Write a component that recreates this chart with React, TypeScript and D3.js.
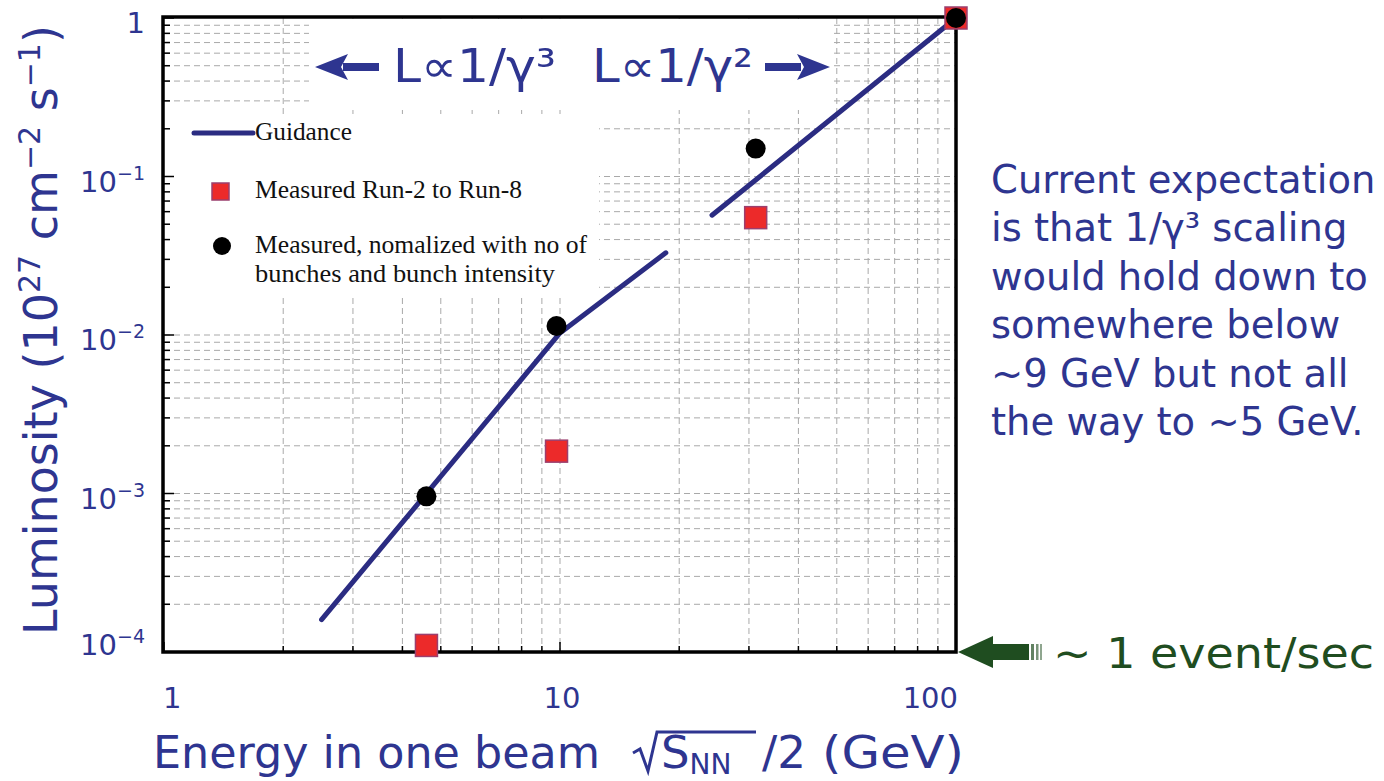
import React from "react";
import * as d3 from "d3";

// Beam energy per beam (GeV) and luminosity (10^27 cm^-2 s^-1)
const energies = [4.6, 9.8, 31.2, 100];
const measuredRuns = [1.1e-4, 1.85e-3, 0.055, 1];
const normalized = [9.6e-4, 0.0114, 0.15, 1];

// Guidance curves: 1/γ³ below ~10 GeV bending to 1/γ², and 1/γ² at high energy
const guidanceLowE = [2.5, 10, 18.5];
const guidanceLowL = [1.6e-4, 0.0103, 0.033];
const guidanceHighE = [24.2, 100];
const guidanceHighL = [0.057, 1];

const xTickValues = [1, 10, 100];
const xTickLabels = ["1", "10", "100"];
const yTickValues = [1, 0.1, 0.01, 0.001, 0.0001];
const yTickExponents = ["", "−1", "−2", "−3", "−4"];

const noteLines = [
  "Current expectation",
  "is that 1/γ³ scaling",
  "would hold down to",
  "somewhere below",
  "~9 GeV but not all",
  "the way to ~5 GeV.",
];

const BLUE = "#2e3590";
const LINE_BLUE = "#2b2c82";
const GREEN = "#1f4d20";
const SANS = "'DejaVu Sans', Verdana, sans-serif";
const SERIF = "'Liberation Serif', 'Times New Roman', serif";

export default function App() {
  const W = 1384;
  const H = 781;
  const left = 164;
  const right = 956;
  const top = 18;
  const bottom = 652;

  const x = d3.scaleLog().domain([1, 100]).range([left, right]);
  const y = d3.scaleLog().domain([1e-4, 1]).range([bottom, top]);

  const line = d3
    .line<[number, number]>()
    .x((d) => x(d[0]))
    .y((d) => y(d[1]));

  const lowPts = guidanceLowE.map((e, i) => [e, guidanceLowL[i]] as [number, number]);
  const highPts = guidanceHighE.map((e, i) => [e, guidanceHighL[i]] as [number, number]);

  const xGrid = x.ticks().filter((v) => v > 1 && v < 100);
  const yGrid = y.ticks().filter((v) => v > 1e-4 && v < 1);
  const isMajor = (v: number) => Math.abs(Math.log10(v) - Math.round(Math.log10(v))) < 1e-6;

  const sq = 22;
  const r = 10;

  const legendText = {
    fontFamily: SERIF,
    fontSize: 25.5,
    fill: "#111",
    lengthAdjust: "spacingAndGlyphs",
  } as const;

  return (
    <svg
      width={W}
      height={H}
      viewBox={`0 0 ${W} ${H}`}
      style={{ position: "absolute", left: 0, top: 0, background: "#fff" }}
    >
      <rect x={0} y={0} width={W} height={H} fill="#fff" />

      {/* dashed grid */}
      <g stroke="#a9a9a9" strokeWidth={1} strokeDasharray="6,4">
        {xGrid.map((v) => (
          <line key={"gx" + v} x1={x(v)} x2={x(v)} y1={top} y2={bottom} />
        ))}
        {yGrid.map((v) => (
          <line key={"gy" + v} x1={left} x2={right} y1={y(v)} y2={y(v)} />
        ))}
      </g>

      {/* white panels behind the annotations */}
      <rect x={309} y={top + 1} width={523} height={91} fill="#fff" />
      <rect x={left + 1} y={115} width={434} height={182} fill="#fff" />

      {/* frame and inner ticks */}
      <g stroke="#000">
        {y.ticks().map((v) => (
          <line
            key={"ty" + v}
            x1={left}
            x2={left + (isMajor(v) ? 10 : 6)}
            y1={y(v)}
            y2={y(v)}
            strokeWidth={1.5}
          />
        ))}
        {x.ticks().map((v) => (
          <line
            key={"tx" + v}
            x1={x(v)}
            x2={x(v)}
            y1={bottom}
            y2={bottom - (isMajor(v) ? 10 : 6)}
            strokeWidth={1.5}
          />
        ))}
        <rect
          x={left - 1}
          y={top - 1}
          width={right - left + 1}
          height={bottom - top + 1}
          fill="none"
          strokeWidth={3.5}
        />
      </g>

      {/* guidance */}
      <path d={line(lowPts) || ""} fill="none" stroke={LINE_BLUE} strokeWidth={5} strokeLinecap="round" strokeLinejoin="round" />
      <path d={line(highPts) || ""} fill="none" stroke={LINE_BLUE} strokeWidth={5} strokeLinecap="round" />

      {/* measured points */}
      {energies.map((e, i) => (
        <rect
          key={"m" + i}
          x={x(e) - sq / 2}
          y={y(measuredRuns[i]) - sq / 2}
          width={sq}
          height={sq}
          fill="#ec2a2a"
          stroke="#9b3f6e"
          strokeWidth={1.5}
        />
      ))}
      {energies.map((e, i) => (
        <circle key={"n" + i} cx={x(e)} cy={y(normalized[i])} r={r} fill="#000" />
      ))}

      {/* y tick labels */}
      {yTickValues.map((v, i) => (
        <text
          key={"yl" + i}
          x={145}
          y={Math.min(y(v) + 15, 655)}
          textAnchor="end"
          fill={BLUE}
          fontFamily={SANS}
          fontSize={29}
        >
          {i === 0 ? (
            "1"
          ) : (
            <>
              10
              <tspan fontSize={19} dy={-12}>
                {yTickExponents[i]}
              </tspan>
            </>
          )}
        </text>
      ))}

      {/* x tick labels */}
      {xTickValues.map((v, i) => (
        <text
          key={"xl" + i}
          x={i === 0 ? x(v) - 1 : x(v) + 2}
          y={708}
          textAnchor={i === 0 ? "start" : i === xTickValues.length - 1 ? "end" : "middle"}
          fill={BLUE}
          fontFamily={SANS}
          fontSize={29}
        >
          {xTickLabels[i]}
        </text>
      ))}

      {/* x axis title */}
      <text x={153} y={768} fill={BLUE} fontFamily={SANS} fontSize={45} textLength={447} lengthAdjust="spacingAndGlyphs">
        Energy in one beam
      </text>
      <path
        d="M633,753 L640,749 L648,771 L657,732 L756,732"
        fill="none"
        stroke={BLUE}
        strokeWidth={3}
        strokeLinejoin="miter"
      />
      <text x={661} y={768} fill={BLUE} fontFamily={SANS} fontSize={45}>
        S
        <tspan fontSize={28} dy={6}>
          NN
        </tspan>
      </text>
      <text x={762} y={768} fill={BLUE} fontFamily={SANS} fontSize={45} textLength={44} lengthAdjust="spacingAndGlyphs">
        /2
      </text>
      <text x={822} y={768} fill={BLUE} fontFamily={SANS} fontSize={45} textLength={142} lengthAdjust="spacingAndGlyphs">
        (GeV)
      </text>

      {/* y axis title */}
      <text
        transform="translate(57,635) rotate(-90)"
        fill={BLUE}
        fontFamily={SANS}
        fontSize={46}
      >
        Luminosity (10
        <tspan fontSize={30} dy={-17}>
          27
        </tspan>
        <tspan dy={17}> cm</tspan>
        <tspan fontSize={30} dy={-17}>
          −2
        </tspan>
        <tspan dy={17}> s</tspan>
        <tspan fontSize={30} dy={-17}>
          −1
        </tspan>
        <tspan dy={17}>)</tspan>
      </text>

      {/* scaling regimes */}
      <g fill={BLUE}>
        <rect x={343} y={63} width={36} height={8} />
        <path d="M315,67 L348,54 L341,67 L348,80 Z" />
        <rect x={765} y={63} width={36} height={8} />
        <path d="M830,67 L797,54 L804,67 L797,80 Z" />
      </g>
      <text x={393} y={82} fill={BLUE} fontFamily={SANS} fontSize={46} textLength={163} lengthAdjust="spacingAndGlyphs">
        L∝1/γ³
      </text>
      <text x={592} y={82} fill={BLUE} fontFamily={SANS} fontSize={46} textLength={161} lengthAdjust="spacingAndGlyphs">
        L∝1/γ²
      </text>

      {/* legend */}
      <line x1={194} x2={253} y1={133} y2={133} stroke={LINE_BLUE} strokeWidth={5} strokeLinecap="round" />
      <text x={255} y={140} {...legendText} textLength={97}>
        Guidance
      </text>
      <rect x={212} y={183} width={17} height={17} fill="#ec2a2a" stroke="#9b3f6e" strokeWidth={1.5} />
      <text x={255} y={198} {...legendText} textLength={267}>
        Measured Run-2 to Run-8
      </text>
      <circle cx={222} cy={246} r={9} fill="#000" />
      <text x={255} y={253} {...legendText} textLength={332}>
        Measured, nomalized with no of
      </text>
      <text x={255} y={282} {...legendText} textLength={300}>
        bunches and bunch intensity
      </text>

      {/* side note */}
      {noteLines.map((t, i) => (
        <text key={"note" + i} x={991} y={193 + i * 48.4} fill={BLUE} fontFamily={SANS} fontSize={38.5}>
          {t}
        </text>
      ))}

      {/* event rate marker */}
      <g fill={GREEN}>
        <path d="M958,652 L993,636 L993,644 L1029,644 L1029,660 L993,660 L993,668 Z" />
        <rect x={1031} y={644} width={3} height={16} opacity={0.7} />
        <rect x={1036} y={644} width={2.5} height={16} opacity={0.6} />
        <rect x={1040} y={644} width={2} height={16} opacity={0.5} />
      </g>
      <text x={1053} y={668} fill={GREEN} fontFamily={SANS} fontSize={43} textLength={321} lengthAdjust="spacingAndGlyphs">
        ~ 1 event/sec
      </text>
    </svg>
  );
}
